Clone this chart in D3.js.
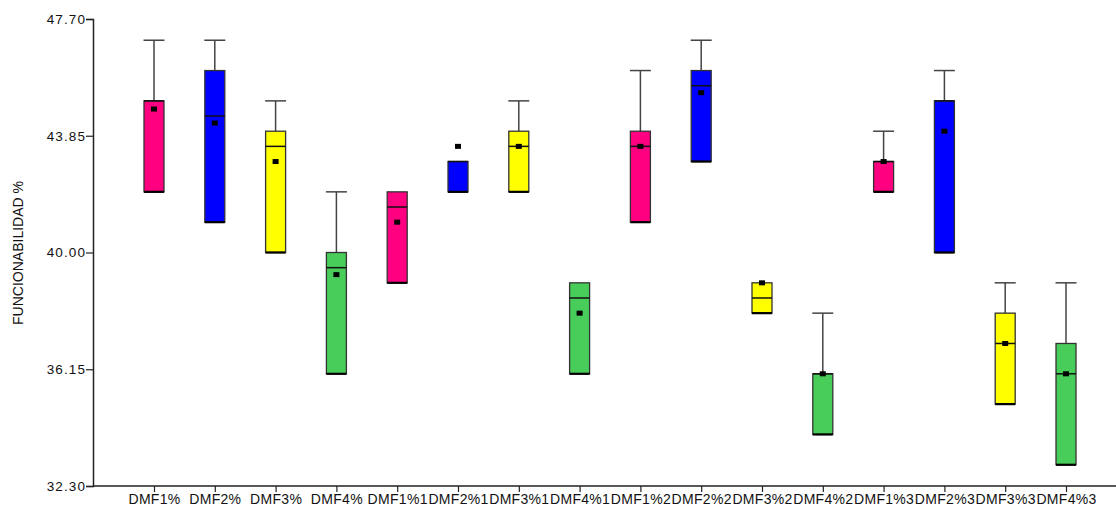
<!DOCTYPE html>
<html>
<head>
<meta charset="utf-8">
<script src="https://cdn.jsdelivr.net/npm/d3@7"></script>
<style>
  body { margin: 0; background: #fff; }
  text { font-family: "Liberation Sans", Arial, sans-serif; fill: #111; }
</style>
</head>
<body>
<script>
// categories and box statistics
var categories = ['DMF1%', 'DMF2%', 'DMF3%', 'DMF4%',
                  'DMF1%1', 'DMF2%1', 'DMF3%1', 'DMF4%1',
                  'DMF1%2', 'DMF2%2', 'DMF3%2', 'DMF4%2',
                  'DMF1%3', 'DMF2%3', 'DMF3%3', 'DMF4%3'];
var lowVals    = [42, 41, 40, 36, 39, 42, 42, 36, 41, 43, 38, 34, 42, 40, 35, 33];
var q1Vals     = [42, 41, 40, 36, 39, 42, 42, 36, 41, 43, 38, 34, 42, 40, 35, 33];
var medianVals = [45, 44.5, 43.5, 39.5, 41.5, 43, 43.5, 38.5, 43.5, 45.5, 38.5, 36, 43, 45, 37, 36];
var q3Vals     = [45, 46, 44, 40, 42, 43, 44, 39, 44, 46, 39, 36, 43, 45, 38, 37];
var highVals   = [47, 47, 45, 42, 42, 43, 45, 39, 46, 47, 39, 38, 44, 46, 39, 39];
var meanVals   = [44.73, 44.27, 43.0, 39.27, 41.0, 43.5, 43.5, 38.0, 43.5, 45.27, 39.0, 36.0, 43.0, 44.0, 37.0, 36.0];
var groupColors = ['#ff0080', '#0000ff', '#ffff00', '#48cd5a'];
var yTicks = [32.30, 36.15, 40.00, 43.85, 47.70];

var width = 1116, height = 506;
var svg = d3.select('body').append('svg')
    .attr('width', width)
    .attr('height', height);

var x = d3.scaleLinear().domain([-1, 16]).range([93.2, 93.2 + 60.8 * 17]);
var y = d3.scaleLinear().domain([32.3, 47.7]).range([486, 19]);

var data = categories.map(function(c, i) {
  return { name: c, i: i, low: lowVals[i], q1: q1Vals[i], med: medianVals[i],
           q3: q3Vals[i], high: highVals[i], mean: meanVals[i], color: groupColors[i % 4] };
});

// axes
var yAxis = svg.append('g')
    .attr('transform', 'translate(93,0)')
    .call(d3.axisLeft(y).tickValues(yTicks).tickFormat(d3.format('.2f')).tickSize(7).tickPadding(0));
yAxis.select('.domain').attr('stroke', '#222').attr('stroke-width', 1.5);
yAxis.selectAll('.tick line').attr('stroke', '#222').attr('stroke-width', 1.2);
yAxis.selectAll('.tick text').style('font-size', '13.5px').style('letter-spacing', '1.1px').attr('fill', '#111');

var xAxis = svg.append('g')
    .attr('transform', 'translate(0,486)')
    .call(d3.axisBottom(x).tickValues(d3.range(16)).tickFormat(function(d) { return categories[d]; })
          .tickSize(6).tickSizeOuter(0).tickPadding(2));
xAxis.select('.domain').attr('stroke', '#222').attr('stroke-width', 1.5)
    .attr('d', 'M93,0H1116');
xAxis.selectAll('.tick line').attr('stroke', '#222').attr('stroke-width', 1.2);
xAxis.selectAll('.tick text').style('font-size', '14px').style('letter-spacing', '0.3px').attr('fill', '#111');

svg.append('text')
    .attr('transform', 'translate(23,253) rotate(-90)')
    .attr('text-anchor', 'middle')
    .style('font-size', '14px')
    .text('FUNCIONABILIDAD %');

// boxes
var boxW = 20, capW = 21;
var g = svg.selectAll('.box').data(data).enter().append('g').attr('class', 'box');

g.filter(function(d) { return d.high > d.q3; }).append('line')
    .attr('x1', function(d) { return x(d.i); })
    .attr('x2', function(d) { return x(d.i); })
    .attr('y1', function(d) { return y(d.high); })
    .attr('y2', function(d) { return y(d.q3); })
    .attr('stroke', '#444').attr('stroke-width', 1.5);

g.filter(function(d) { return d.high > d.q3; }).append('line')
    .attr('x1', function(d) { return x(d.i) - capW / 2; })
    .attr('x2', function(d) { return x(d.i) + capW / 2; })
    .attr('y1', function(d) { return y(d.high); })
    .attr('y2', function(d) { return y(d.high); })
    .attr('stroke', '#444').attr('stroke-width', 1.5);

g.append('rect')
    .attr('x', function(d) { return x(d.i) - boxW / 2; })
    .attr('y', function(d) { return y(d.q3); })
    .attr('width', boxW)
    .attr('height', function(d) { return y(d.q1) - y(d.q3); })
    .attr('fill', function(d) { return d.color; })
    .attr('stroke', '#333').attr('stroke-width', 1.3);

// lower whisker sits on the box bottom
g.append('line')
    .attr('x1', function(d) { return x(d.i) - boxW / 2; })
    .attr('x2', function(d) { return x(d.i) + boxW / 2; })
    .attr('y1', function(d) { return y(d.low); })
    .attr('y2', function(d) { return y(d.low); })
    .attr('stroke', '#000').attr('stroke-width', 2.2);

g.append('line')
    .attr('x1', function(d) { return x(d.i) - boxW / 2; })
    .attr('x2', function(d) { return x(d.i) + boxW / 2; })
    .attr('y1', function(d) { return y(d.med); })
    .attr('y2', function(d) { return y(d.med); })
    .attr('stroke', '#111').attr('stroke-width', 1.5);

g.append('rect')
    .attr('x', function(d) { return x(d.i) - 3; })
    .attr('y', function(d) { return y(d.mean) - 2.5; })
    .attr('width', 6).attr('height', 5)
    .attr('fill', '#000');
</script>
</body>
</html>
